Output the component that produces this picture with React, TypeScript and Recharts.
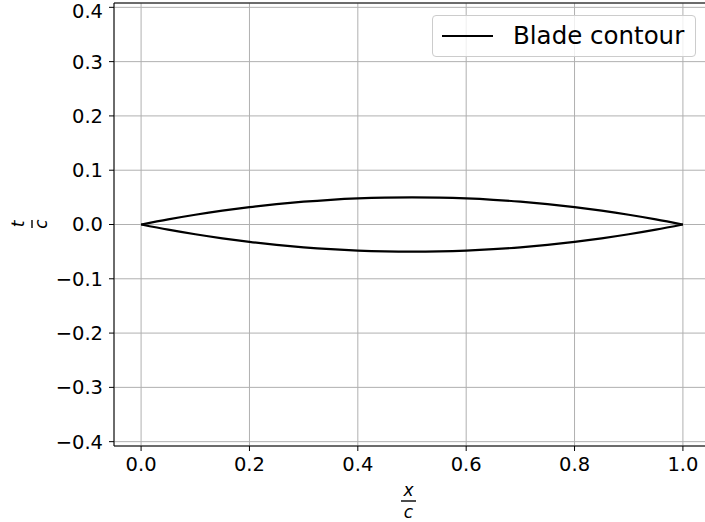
import React from 'react';
import {
  LineChart,
  Line,
  XAxis,
  YAxis,
  CartesianGrid,
  ReferenceLine,
} from 'recharts';

// chord stations x/c and half-thickness
const xStations = [0, 0.05, 0.1, 0.15, 0.2, 0.25, 0.3, 0.35, 0.4, 0.45, 0.5, 0.55, 0.6, 0.65, 0.7, 0.75, 0.8, 0.85, 0.9, 0.95, 1.0];
const upperSide = [0, 0.0095, 0.018, 0.0255, 0.032, 0.0375, 0.042, 0.0455, 0.048, 0.0495, 0.05, 0.0495, 0.048, 0.0455, 0.042, 0.0375, 0.032, 0.0255, 0.018, 0.0095, 0];
const lowerSide = [0, -0.0095, -0.018, -0.0255, -0.032, -0.0375, -0.042, -0.0455, -0.048, -0.0495, -0.05, -0.0495, -0.048, -0.0455, -0.042, -0.0375, -0.032, -0.0255, -0.018, -0.0095, 0];

const xTicks = [0, 0.2, 0.4, 0.6, 0.8, 1.0];
const yTicks = [-0.4, -0.3, -0.2, -0.1, 0, 0.1, 0.2, 0.3, 0.4];

const legendLabel = 'Blade contour';

const data = xStations.map((x, i) => ({ x, upper: upperSide[i], lower: lowerSide[i] }));

const FONT = '"DejaVu Sans", sans-serif';
const GRID = '#b0b0b0';
const TICK_SIZE = 19.5;

const fmt = (v: number) => {
  const s = Math.abs(v).toFixed(1);
  return v < -1e-9 ? `\u2212${s}` : s;
};

// matplotlib-like legend frame, laid over the plot
const LegendBox = () => (
  <div
    style={{
      position: 'absolute',
      left: 432,
      top: 15,
      width: 262,
      height: 40,
      border: '1px solid #cccccc',
      borderRadius: 4,
      background: 'rgba(255,255,255,0.8)',
      display: 'flex',
      alignItems: 'center',
      fontFamily: FONT,
      fontSize: 24.5,
      color: '#000',
    }}
  >
    <svg width={80} height={40} style={{ flex: 'none' }}>
      <line x1={9} x2={60} y1={20} y2={20} stroke="#000" strokeWidth={2} />
    </svg>
    <span style={{ whiteSpace: 'nowrap', lineHeight: '40px' }}>{legendLabel}</span>
  </div>
);

export default function App() {
  return (
    <div style={{ position: 'absolute', left: 0, top: 0, width: 705, height: 522, overflow: 'hidden', background: '#fff' }}>
      <LineChart
        width={720}
        height={522}
        data={data}
        margin={{ top: 3, right: 10, bottom: 0, left: 0 }}
      >
        <CartesianGrid stroke={GRID} strokeWidth={1} />
        <XAxis
          dataKey="x"
          type="number"
          domain={[-0.05, 1.05]}
          ticks={xTicks}
          tickFormatter={fmt}
          allowDataOverflow
          height={76}
          tickSize={5}
          tickMargin={6}
          stroke="#000"
          tick={{ fill: '#000', fontSize: TICK_SIZE, fontFamily: FONT }}
        />
        <YAxis
          type="number"
          domain={[-0.408, 0.408]}
          ticks={yTicks}
          tickFormatter={fmt}
          allowDataOverflow
          width={114}
          tickSize={5}
          tickMargin={6}
          stroke="#000"
          tick={{ fill: '#000', fontSize: TICK_SIZE, fontFamily: FONT }}
        />
        <ReferenceLine y={0.408} stroke="#000" strokeWidth={1} />
        <Line
          dataKey="upper"
          name={legendLabel}
          type="monotone"
          stroke="#000"
          strokeWidth={2.2}
          dot={false}
          isAnimationActive={false}
        />
        <Line
          dataKey="lower"
          type="monotone"
          stroke="#000"
          strokeWidth={2.2}
          dot={false}
          isAnimationActive={false}
        />
      </LineChart>
      <LegendBox />
      <svg
        width={705}
        height={522}
        style={{ position: 'absolute', left: 0, top: 0, pointerEvents: 'none' }}
        fontFamily={FONT}
      >
        {/* x / c stacked fraction */}
        <text x={408.5} y={496} fontSize={17} fontStyle="italic" textAnchor="middle">x</text>
        <line x1={401} x2={416} y1={501} y2={501} stroke="#000" strokeWidth={1.4} />
        <text x={408.5} y={518} fontSize={17} fontStyle="italic" textAnchor="middle">c</text>
        {/* t / c stacked fraction, rotated */}
        <g transform="translate(32,224) rotate(-90)">
          <text x={0} y={-8} fontSize={17} fontStyle="italic" textAnchor="middle">t</text>
          <line x1={-4} x2={4} y1={0} y2={0} stroke="#000" strokeWidth={1.4} />
          <text x={0} y={15} fontSize={17} fontStyle="italic" textAnchor="middle">c</text>
        </g>
      </svg>
    </div>
  );
}
